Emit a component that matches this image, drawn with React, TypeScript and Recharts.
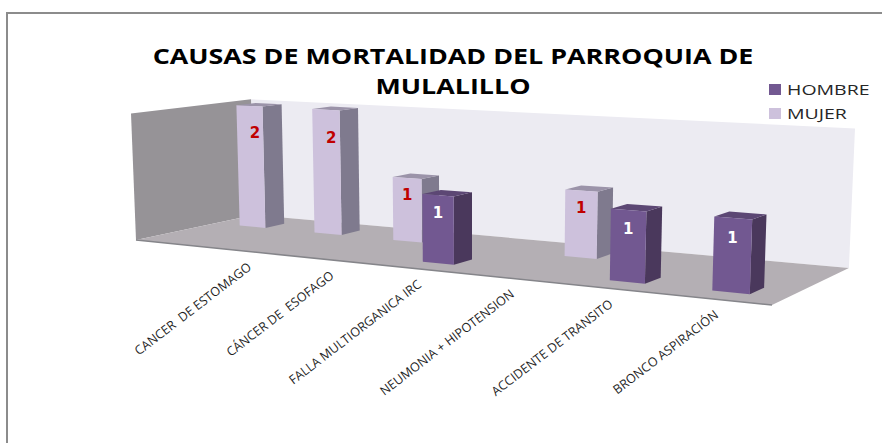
import { BarChart, Bar, XAxis, YAxis, Legend, LabelList, Customized } from "recharts";

const CATEGORIES = [
  "CANCER  DE ESTOMAGO",
  "CÁNCER DE  ESOFAGO",
  "FALLA MULTIORGANICA IRC",
  "NEUMONIA + HIPOTENSION",
  "ACCIDENTE DE TRANSITO",
  "BRONCO ASPIRACIÓN",
];
const HOMBRE = [null, null, 1, null, 1, 1];
const MUJER = [2, 2, 1, null, 1, null];
const TITLE_LINES = ["CAUSAS DE MORTALIDAD DEL PARROQUIA DE", "MULALILLO"];

const rows = CATEGORIES.map((name, i) => ({ name, HOMBRE: HOMBRE[i], MUJER: MUJER[i] }));

const WIDTH = 882;
const HEIGHT = 443;
// flat plot rectangle the library lays out, then projected onto the 3D floor
const PLOT = { left: 141, top: 100, width: 600, height: 150 };
const U_SCALE = 0.859;

const FONT = "'Open Sans', sans-serif";

// perspective camera, fitted to the floor and wall corners of the picture
function project(u: number, v: number, t: number): [number, number] {
  const w = 1 - 0.19 * u + 0.0935 * v;
  const x = 489.3 * u + 141.7 * v + 136 - 6.9 * t;
  const y = 7.05 * u - 4.9 * v + 240 - 128 * t;
  const d = w - 0.0145 * t;
  return [x / d, y / d];
}

function poly(points: [number, number, number][]) {
  return points
    .map(([u, v, t]) => project(u, v, t).map((n) => n.toFixed(1)).join(","))
    .join(" ");
}

const toU = (x: number) => ((x - PLOT.left) / PLOT.width) * U_SCALE;
const toT = (y: number) => (PLOT.top + PLOT.height - y) / PLOT.height;

interface SeriesLook {
  shift: number;
  depth: [number, number];
  front: string;
  side: string;
  top: string;
  text: string;
}

const LOOK_MUJER: SeriesLook = {
  shift: 0.0017,
  depth: [0.65, 0.82],
  front: "#cdc1dc",
  side: "#7f7a8e",
  top: "#9b93a9",
  text: "#c00000",
};
const LOOK_HOMBRE: SeriesLook = {
  shift: 0.1385,
  depth: [0.175, 0.345],
  front: "#725891",
  side: "#4a385c",
  top: "#5c4774",
  text: "#ffffff",
};

function Box3D(props: any) {
  const { x, y, width, height, look } = props;
  if (!height) return null;
  const u0 = toU(x) + look.shift;
  const u1 = toU(x + width) + look.shift;
  const t = toT(y);
  const [v0, v1] = look.depth;
  return (
    <g>
      <polygon fill={look.side} points={poly([[u1, v0, 0], [u1, v1, 0], [u1, v1, t], [u1, v0, t]])} />
      <polygon fill={look.top} points={poly([[u0, v0, t], [u1, v0, t], [u1, v1, t], [u0, v1, t]])} />
      <polygon fill={look.front} points={poly([[u0, v0, 0], [u1, v0, 0], [u1, v0, t], [u0, v0, t]])} />
    </g>
  );
}

function BarValue(props: any) {
  const { x, y, width, value, look } = props;
  if (!value) return null;
  const u = toU(x + width / 2) + look.shift;
  const [sx, sy] = project(u, look.depth[0], toT(y) * 0.81 - 0.035);
  return (
    <text
      x={sx + (value - 1) * 5}
      y={sy + 5}
      textAnchor="middle"
      fill={look.text}
      fontFamily="'DejaVu Sans', sans-serif"
      fontWeight={700}
      fontSize={15}
    >
      {value}
    </text>
  );
}

function CategoryTick(props: any) {
  const { x, payload } = props;
  const [sx, sy] = project(toU(x) + 0.143, 0, 0);
  return (
    <text
      transform={`translate(${sx + 1},${sy + 17}) rotate(-37.5)`}
      textAnchor="end"
      fill="#1f1f1f"
      fontFamily={FONT}
      fontSize={12.6}
      style={{ whiteSpace: "pre" }}
    >
      {payload.value}
    </text>
  );
}

function Room() {
  return (
    <g>
      <polygon fill="#ecebf2" points={poly([[0, 1, 0], [1, 1, 0], [1, 1, 1], [0, 1, 1]])} />
      <polygon fill="#969397" points={poly([[0, 0, 0], [0, 1, 0], [0, 1, 1], [0, 0, 1]])} />
      <polygon fill="#b4afb4" points={poly([[0, 0, 0], [1, 0, 0], [1, 1, 0], [0, 1, 0]])} />
      <polyline
        fill="none"
        stroke="#85858a"
        strokeWidth={1.6}
        points={poly([[0, 0, 0], [1, 0, 0]])}
      />
    </g>
  );
}

// absolute, so the legend takes no room from the plot
function LegendBox({ payload }: any) {
  return (
    <div style={{ position: "absolute", left: 0, top: 0, fontFamily: FONT, fontSize: 15, color: "#262626", lineHeight: "24px" }}>
      {(payload || []).map((item: any) => (
        <div key={item.value} style={{ display: "flex", alignItems: "center", width: 110 }}>
          <span
            style={{ width: 12, height: 11, marginRight: 6, background: item.color, display: "block" }}
          />
          <span style={{ transform: "scaleX(1.3)", transformOrigin: "left center" }}>{item.value}</span>
        </div>
      ))}
    </div>
  );
}

export default function App() {
  return (
    <div style={{ position: "absolute", left: 0, top: 0, width: WIDTH, height: HEIGHT, overflow: "hidden", background: "#fff" }}>
      <div style={{ position: "absolute", left: 6, top: 12, width: WIDTH, height: HEIGHT, borderLeft: "2px solid #8c8c8c", borderTop: "2px solid #8c8c8c" }} />
      <div style={{ position: "absolute", left: 0, top: 0 }}>
        <BarChart
          width={WIDTH}
          height={HEIGHT}
          data={rows}
          barSize={35}
          barGap={-35}
          margin={{
            left: PLOT.left,
            top: PLOT.top,
            right: WIDTH - PLOT.left - PLOT.width,
            bottom: HEIGHT - PLOT.top - PLOT.height - 30,
          }}
        >
          <Customized component={Room} />
          <XAxis dataKey="name" axisLine={false} tickLine={false} height={30} interval={0} tick={<CategoryTick />} />
          <YAxis hide domain={[0, 2]} />
          <Bar dataKey="MUJER" fill={LOOK_MUJER.front} isAnimationActive={false} shape={<Box3D look={LOOK_MUJER} />}>
            <LabelList dataKey="MUJER" content={<BarValue look={LOOK_MUJER} />} />
          </Bar>
          <Bar dataKey="HOMBRE" fill={LOOK_HOMBRE.front} isAnimationActive={false} shape={<Box3D look={LOOK_HOMBRE} />}>
            <LabelList dataKey="HOMBRE" content={<BarValue look={LOOK_HOMBRE} />} />
          </Bar>
          <Legend
            layout="vertical"
            content={<LegendBox />}
            wrapperStyle={{ left: 769, top: 77, width: 110, height: 0 }}
          />
        </BarChart>
      </div>
      <div
        style={{
          position: "absolute",
          left: 0,
          top: 40,
          width: 906,
          textAlign: "center",
          fontFamily: FONT,
          fontWeight: 700,
          fontSize: 22,
          lineHeight: "30px",
          color: "#000",
          transform: "scaleX(1.22)",
          transformOrigin: "453px 0",
        }}
      >
        {TITLE_LINES.map((line) => (
          <div key={line}>{line}</div>
        ))}
      </div>
    </div>
  );
}
